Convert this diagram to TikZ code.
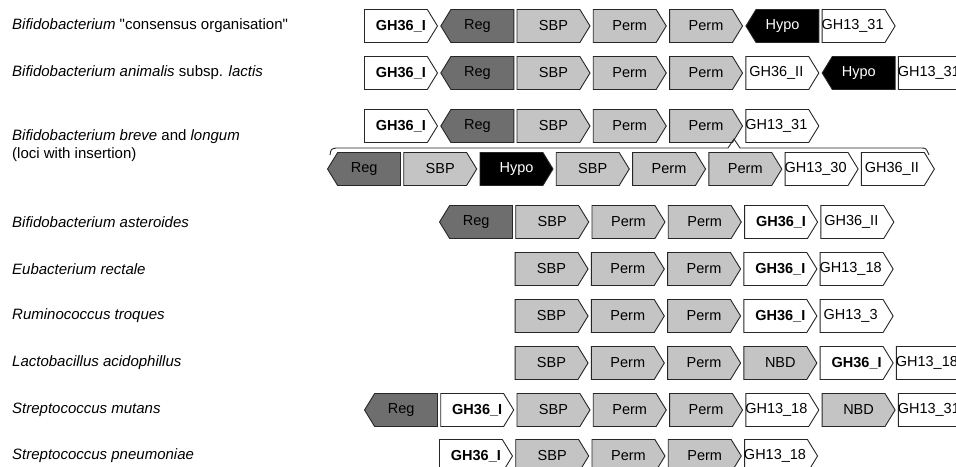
\documentclass[tikz,border=0pt]{standalone}
\usepackage{fontspec}
\setmainfont{Liberation Sans}
\usetikzlibrary{positioning, shapes.symbols}

\definecolor{regcol}{gray}{0.43}
\definecolor{trancol}{gray}{0.77}

\begin{document}
\begin{tikzpicture}[
    x=1pt, y=-1pt,
    node distance=2.3pt,
    gene shift/.store in=\geneshift, gene shift=10pt,
    gene/.style={signal, draw=black!85, line width=0.9pt, signal pointer angle=117,
        minimum width=73pt, minimum height=33pt, inner sep=0pt,
        font=\fontsize{14.5}{16}\selectfont},
    fwd/.style={gene, signal to=east, signal from=nowhere,
        execute at begin node={\hbox to 0pt\bgroup\hss\kern\geneshift},
        execute at end node={\hss\egroup}},
    rev/.style={gene, signal to=west, signal from=nowhere,
        execute at begin node={\hbox to 0pt\bgroup\hss},
        execute at end node={\kern10pt\hss\egroup}},
    reg/.style={rev, fill=regcol},
    tran/.style={fwd, fill=trancol},
    hypo/.style={fill=black, text=white},
    gh/.style={fwd, fill=white, gene shift=-2pt},
    ghbold/.style={gh, gene shift=10pt, font=\fontsize{14.5}{16}\selectfont\bfseries},
    species/.style={anchor=west, inner sep=0pt, align=left,
        font=\fontsize{15}{18}\selectfont}]

    \useasboundingbox (0,0) rectangle (956,466);
    \clip (0,0) rectangle (956,466);

    % species names
    \node[species] (lcons) at (12,26) {\textit{Bifidobacterium} \textquotedbl consensus organisation\textquotedbl};
    \node[species] (lanim) at (12,73) {\textit{Bifidobacterium animalis} subsp. \textit{lactis}};
    \node[species] (lbrev) at (12,146) {\textit{Bifidobacterium breve} and \textit{longum}\\(loci with insertion)};
    \node[species] (laster) at (12,222) {\textit{Bifidobacterium asteroides}};
    \node[species] (leubac) at (12,269) {\textit{Eubacterium rectale}};
    \node[species] (lrumin) at (12,316) {\textit{Ruminococcus troques}};
    \node[species] (llacto) at (12,363) {\textit{Lactobacillus acidophillus}};
    \node[species] (lsmut) at (12,410) {\textit{Streptococcus mutans}};
    \node[species] (lspneu) at (12,456) {\textit{Streptococcus pneumoniae}};

    % consensus
    \node[ghbold, anchor=west] (cons1) at (364,26) {GH36\_I};
    \node[reg, right=of cons1] (cons2) {Reg};
    \node[tran, right=of cons2] (cons3) {SBP};
    \node[tran, right=of cons3] (cons4) {Perm};
    \node[tran, right=of cons4] (cons5) {Perm};
    \node[rev, hypo, right=of cons5] (cons6) {Hypo};
    \node[gh, right=of cons6] (cons7) {GH13\_31};

    % animalis
    \node[ghbold, anchor=west] (anim1) at (364,73) {GH36\_I};
    \node[reg, right=of anim1] (anim2) {Reg};
    \node[tran, right=of anim2] (anim3) {SBP};
    \node[tran, right=of anim3] (anim4) {Perm};
    \node[tran, right=of anim4] (anim5) {Perm};
    \node[gh, right=of anim5] (anim6) {GH36\_II};
    \node[rev, hypo, right=of anim6] (anim7) {Hypo};
    \node[gh, right=of anim7] (anim8) {GH13\_31};

    % breve and longum
    \node[ghbold, anchor=west] (brev1) at (364,126) {GH36\_I};
    \node[reg, right=of brev1] (brev2) {Reg};
    \node[tran, right=of brev2] (brev3) {SBP};
    \node[tran, right=of brev3] (brev4) {Perm};
    \node[tran, right=of brev4] (brev5) {Perm};
    \node[gh, right=of brev5] (brev6) {GH13\_31};

    % insertion
    \node[reg, anchor=west] (ins1) at (327,169) {Reg};
    \node[tran, right=of ins1] (ins2) {SBP};
    \node[fwd, hypo, right=of ins2] (ins3) {Hypo};
    \node[tran, right=of ins3] (ins4) {SBP};
    \node[tran, right=of ins4] (ins5) {Perm};
    \node[tran, right=of ins5] (ins6) {Perm};
    \node[gh, right=of ins6] (ins7) {GH13\_30};
    \node[gh, right=of ins7] (ins8) {GH36\_II};

    \draw[line width=0.9pt, black!85] (330,155) .. controls (331,149) .. (336,148) -- (728,148)
        -- (734,139) -- (740,148) -- (921,148) .. controls (926,148) .. (929,155);

    % asteroides
    \node[reg, anchor=west] (aster1) at (439,222) {Reg};
    \node[tran, right=of aster1] (aster2) {SBP};
    \node[tran, right=of aster2] (aster3) {Perm};
    \node[tran, right=of aster3] (aster4) {Perm};
    \node[ghbold, right=of aster4] (aster5) {GH36\_I};
    \node[gh, right=of aster5] (aster6) {GH36\_II};

    % eubacterium
    \node[tran, anchor=west] (eubac1) at (514.6,269) {SBP};
    \node[tran, right=of eubac1] (eubac2) {Perm};
    \node[tran, right=of eubac2] (eubac3) {Perm};
    \node[ghbold, right=of eubac3] (eubac4) {GH36\_I};
    \node[gh, right=of eubac4] (eubac5) {GH13\_18};

    % ruminococcus
    \node[tran, anchor=west] (rumin1) at (514.6,316) {SBP};
    \node[tran, right=of rumin1] (rumin2) {Perm};
    \node[tran, right=of rumin2] (rumin3) {Perm};
    \node[ghbold, right=of rumin3] (rumin4) {GH36\_I};
    \node[gh, right=of rumin4] (rumin5) {GH13\_3};

    % lactobacillus
    \node[tran, anchor=west] (lacto1) at (514.6,363) {SBP};
    \node[tran, right=of lacto1] (lacto2) {Perm};
    \node[tran, right=of lacto2] (lacto3) {Perm};
    \node[tran, right=of lacto3] (lacto4) {NBD};
    \node[ghbold, right=of lacto4] (lacto5) {GH36\_I};
    \node[gh, right=of lacto5] (lacto6) {GH13\_18};

    % s. mutans
    \node[reg, anchor=west] (smut1) at (364,410) {Reg};
    \node[ghbold, right=of smut1] (smut2) {GH36\_I};
    \node[tran, right=of smut2] (smut3) {SBP};
    \node[tran, right=of smut3] (smut4) {Perm};
    \node[tran, right=of smut4] (smut5) {Perm};
    \node[gh, right=of smut5] (smut6) {GH13\_18};
    \node[tran, right=of smut6] (smut7) {NBD};
    \node[gh, right=of smut7] (smut8) {GH13\_31};

    % s. pneumoniae
    \node[ghbold, anchor=west] (spneu1) at (439,456) {GH36\_I};
    \node[tran, right=of spneu1] (spneu2) {SBP};
    \node[tran, right=of spneu2] (spneu3) {Perm};
    \node[tran, right=of spneu3] (spneu4) {Perm};
    \node[gh, right=of spneu4] (spneu5) {GH13\_18};

\end{tikzpicture}
\end{document}
